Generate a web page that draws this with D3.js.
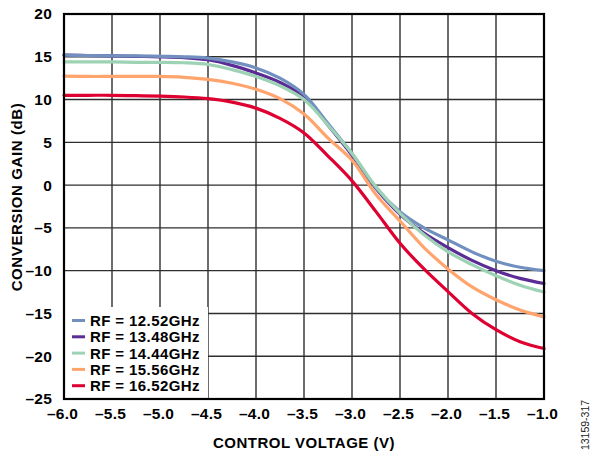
<!DOCTYPE html>
<html>
<head>
<meta charset="utf-8">
<script src="https://cdn.jsdelivr.net/npm/d3@7"></script>
<style>
  html, body { margin: 0; padding: 0; background: #fff; }
  svg { display: block; }
  text { font-family: "Liberation Sans", Arial, Helvetica, sans-serif; }
</style>
</head>
<body>
<svg id="chart" width="592" height="452"></svg>
<script>
// Control voltage sweep (V)
const controlVoltage = [-6, -5.75, -5.5, -5.25, -5, -4.75, -4.5, -4.25, -4, -3.75, -3.5,
  -3.25, -3, -2.75, -2.5, -2.25, -2, -1.75, -1.5, -1.25, -1];

// Conversion gain (dB) at each RF frequency
const gain1252 = [15.2, 15.15, 15.1, 15.1, 15.05, 15.0, 14.85, 14.4, 13.7, 12.5, 10.6,
  7.2, 3.7, -0.3, -3.1, -5.0, -6.4, -7.8, -8.9, -9.6, -10.0];
const gain1348 = [15.2, 15.15, 15.1, 15.05, 15.0, 14.9, 14.65, 14.0, 13.1, 12.0, 10.3,
  7.0, 3.5, -0.4, -3.4, -5.6, -7.3, -8.8, -10.0, -10.9, -11.5];
const gain1444 = [14.4, 14.4, 14.4, 14.35, 14.35, 14.3, 14.1, 13.5, 12.7, 11.6, 10.0,
  7.0, 3.7, -0.2, -3.3, -5.8, -7.8, -9.3, -10.6, -11.7, -12.5];
const gain1556 = [12.75, 12.7, 12.7, 12.7, 12.7, 12.6, 12.35, 11.9, 11.2, 10.1, 8.3,
  5.5, 2.9, -1.1, -4.2, -7.3, -9.8, -11.9, -13.4, -14.6, -15.4];
const gain1652 = [10.5, 10.5, 10.5, 10.45, 10.4, 10.3, 10.1, 9.7, 9.0, 7.8, 6.1,
  3.4, 0.5, -3.1, -6.8, -9.8, -12.45, -15.0, -16.9, -18.3, -19.1];

const seriesLabels = ["RF = 12.52GHz", "RF = 13.48GHz", "RF = 14.44GHz", "RF = 15.56GHz", "RF = 16.52GHz"];
const seriesColors = ["#7190c0", "#5b2c95", "#9dd3b4", "#ffa46c", "#dd0030"];
const seriesValues = [gain1252, gain1348, gain1444, gain1556, gain1652];

const xTicks = [-6, -5.5, -5, -4.5, -4, -3.5, -3, -2.5, -2, -1.5, -1];
const yTicks = [-25, -20, -15, -10, -5, 0, 5, 10, 15, 20];

const svg = d3.select("#chart");
const plotLeft = 64, plotRight = 544, plotTop = 14, plotBottom = 399;

const x = d3.scaleLinear().domain([-6, -1]).range([plotLeft, plotRight]);
const y = d3.scaleLinear().domain([-25, 20]).range([plotBottom, plotTop]);

const dash = v => (v < 0 ? "\u2013" : "") + Math.abs(v);
const dash1 = v => (v < 0 ? "\u2013" : "") + Math.abs(v).toFixed(1);

// grid
const grid = svg.append("g");
grid.selectAll("line.v").data(xTicks).join("line")
  .attr("x1", d => x(d)).attr("x2", d => x(d))
  .attr("y1", plotTop).attr("y2", plotBottom)
  .attr("stroke", "#2e2e2e").attr("stroke-width", 1.4);
grid.selectAll("line.h").data(yTicks).join("line")
  .attr("x1", plotLeft).attr("x2", plotRight)
  .attr("y1", d => y(d)).attr("y2", d => y(d))
  .attr("stroke", "#2e2e2e").attr("stroke-width", 1.4);

// legend background
svg.append("rect")
  .attr("x", plotLeft).attr("y", 307)
  .attr("width", x(-4.5) - plotLeft).attr("height", plotBottom - 307)
  .attr("fill", "#fff");

// curves
const line = d3.line()
  .x((d, i) => x(controlVoltage[i]))
  .y(d => y(d))
  .curve(d3.curveCatmullRom.alpha(0.5));

const drawOrder = [1, 0, 2, 3, 4];
svg.append("g").selectAll("path").data(drawOrder).join("path")
  .attr("d", k => line(seriesValues[k]))
  .attr("fill", "none")
  .attr("stroke", k => seriesColors[k])
  .attr("stroke-width", 3.2)
  .attr("stroke-linejoin", "round")
  .attr("stroke-linecap", "round");

// frame
svg.append("rect")
  .attr("x", plotLeft).attr("y", plotTop)
  .attr("width", plotRight - plotLeft).attr("height", plotBottom - plotTop)
  .attr("fill", "none").attr("stroke", "#000").attr("stroke-width", 2.2);

// tick labels
const xAxis = d3.axisBottom(x).tickValues(xTicks).tickFormat(dash1).tickSize(0).tickPadding(9);
const gx = svg.append("g").attr("transform", `translate(-2,${plotBottom})`).call(xAxis);
gx.select(".domain").remove();
gx.selectAll("text")
  .attr("font-family", '"Liberation Sans", Arial, sans-serif')
  .attr("font-size", 15.5).attr("font-weight", "bold")
  .attr("letter-spacing", 0.2).attr("fill", "#000");

const yAxis = d3.axisLeft(y).tickValues(yTicks).tickFormat(dash).tickSize(0).tickPadding(12);
const gy = svg.append("g").attr("transform", `translate(${plotLeft},0)`).call(yAxis);
gy.select(".domain").remove();
gy.selectAll("text")
  .attr("font-family", '"Liberation Sans", Arial, sans-serif')
  .attr("font-size", 15.5).attr("font-weight", "bold")
  .attr("letter-spacing", 0.2).attr("fill", "#000");

// legend
const legend = svg.append("g");
seriesLabels.forEach((label, i) => {
  const ly = 320.5 + i * 16.3;
  legend.append("line")
    .attr("x1", 72).attr("x2", 85).attr("y1", ly).attr("y2", ly)
    .attr("stroke", seriesColors[i]).attr("stroke-width", 3);
  legend.append("text")
    .attr("x", 90).attr("y", ly + 5.4)
    .attr("font-size", 15).attr("font-weight", "bold")
    .attr("letter-spacing", 0.4).attr("fill", "#000")
    .text(label);
});

// axis titles
svg.append("text")
  .attr("x", (plotLeft + plotRight) / 2).attr("y", 448)
  .attr("text-anchor", "middle")
  .attr("font-size", 15).attr("font-weight", "bold")
  .attr("letter-spacing", 0.5).attr("fill", "#000")
  .text("CONTROL VOLTAGE (V)");

svg.append("text")
  .attr("transform", "translate(22,197) rotate(-90)")
  .attr("text-anchor", "middle")
  .attr("font-size", 15).attr("font-weight", "bold")
  .attr("letter-spacing", 0.6).attr("fill", "#000")
  .text("CONVERSION GAIN (dB)");

svg.append("text")
  .attr("transform", "translate(589,425) rotate(-90)")
  .attr("text-anchor", "middle")
  .attr("font-size", 10.5).attr("fill", "#222")
  .text("13159-317");
</script>
</body>
</html>
